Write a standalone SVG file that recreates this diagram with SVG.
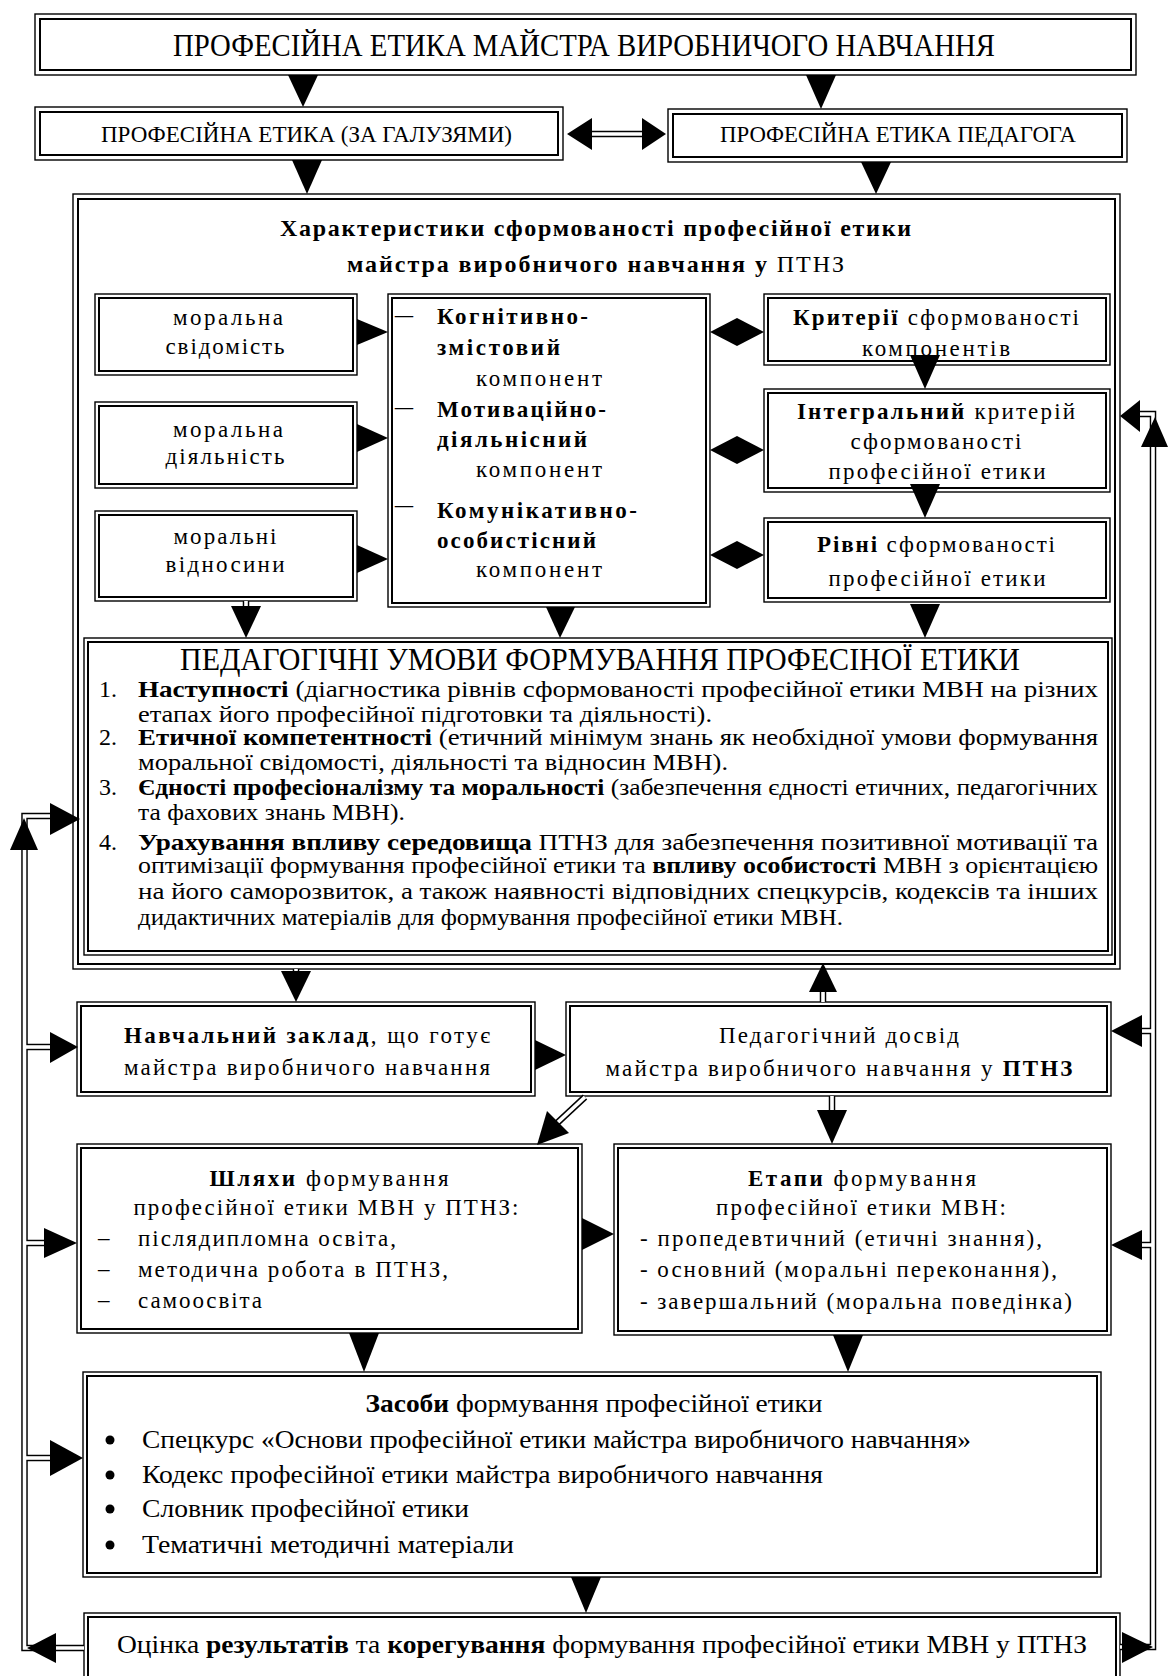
<svg xmlns="http://www.w3.org/2000/svg" width="1171" height="1676" viewBox="0 0 1171 1676">
<style>
.o{fill:#fff;stroke:#000;stroke-width:1.4}
.i{fill:none;stroke:#000;stroke-width:2}
.t{font-family:"Liberation Serif","Times New Roman",serif;font-size:23px;fill:#000}
.l{font-size:24px}
.z{font-size:25px}
.c{text-anchor:middle}
.b{font-weight:bold}
.ah{fill:#000;stroke:none}
.dk{fill:none;stroke:#000;stroke-width:6.5}
.dw{fill:none;stroke:#fff;stroke-width:3.6}
</style>
<rect width="1171" height="1676" fill="#fff"/>

<g id="n-title">
<rect class="o" x="35" y="14" width="1101" height="61"/>
<rect class="i" x="40" y="19" width="1091" height="51"/>
<text class="t" x="173" y="56" style="font-size:31px" textLength="822" lengthAdjust="spacingAndGlyphs">ПРОФЕСІЙНА ЕТИКА МАЙСТРА ВИРОБНИЧОГО НАВЧАННЯ</text>
</g>

<g id="n-galuz">
<rect class="o" x="35" y="107" width="528" height="53"/>
<rect class="i" x="40" y="112" width="518" height="43"/>
<text class="t" x="101" y="142" textLength="411" lengthAdjust="spacingAndGlyphs">ПРОФЕСІЙНА ЕТИКА (ЗА ГАЛУЗЯМИ)</text>
</g>

<g id="n-pedagog">
<rect class="o" x="668" y="109" width="459" height="53"/>
<rect class="i" x="673" y="114" width="449" height="43"/>
<text class="t" x="720" y="142" textLength="356" lengthAdjust="spacingAndGlyphs">ПРОФЕСІЙНА ЕТИКА ПЕДАГОГА</text>
</g>

<g id="n-characteristics">
<rect class="o" x="73" y="194" width="1047" height="775"/>
<rect class="i" x="78" y="199" width="1037" height="765"/>
<text class="t b" x="280" y="236" style="font-size:24px" textLength="631">Характеристики сформованості професійної етики</text>
<text class="t" x="347" y="272" style="font-size:24px" textLength="497"><tspan class="b">майстра виробничого навчання у </tspan>ПТНЗ</text>
</g>

<g id="n-svidomist">
<rect class="o" x="95" y="294" width="262" height="81"/>
<rect class="i" x="99" y="298" width="254" height="73"/>
<text class="t c" x="228" y="325" textLength="110">моральна</text>
<text class="t c" x="225" y="354" textLength="119">свідомість</text>
</g>

<g id="n-diyalnist">
<rect class="o" x="95" y="402" width="262" height="86"/>
<rect class="i" x="99" y="406" width="254" height="78"/>
<text class="t c" x="228" y="437" textLength="110">моральна</text>
<text class="t c" x="225" y="464" textLength="119">діяльність</text>
</g>

<g id="n-vidnosyny">
<rect class="o" x="95" y="511" width="262" height="90"/>
<rect class="i" x="99" y="515" width="254" height="82"/>
<text class="t c" x="225" y="544" textLength="103">моральні</text>
<text class="t c" x="225" y="572" textLength="119">відносини</text>
</g>

<g id="n-components">
<rect class="o" x="388" y="294" width="322" height="313"/>
<rect class="i" x="392" y="298" width="314" height="305"/>
<text class="t" x="395" y="322" textLength="18" lengthAdjust="spacingAndGlyphs">–</text>
<text class="t b" x="437" y="324" textLength="151">Когнітивно-</text>
<text class="t b" x="437" y="355" textLength="123">змістовий</text>
<text class="t" x="476" y="386" textLength="126">компонент</text>
<text class="t" x="395" y="414" textLength="18" lengthAdjust="spacingAndGlyphs">–</text>
<text class="t b" x="437" y="417" textLength="169">Мотиваційно-</text>
<text class="t b" x="437" y="447" textLength="150">діяльнісний</text>
<text class="t" x="476" y="477" textLength="126">компонент</text>
<text class="t" x="395" y="512" textLength="18" lengthAdjust="spacingAndGlyphs">–</text>
<text class="t b" x="437" y="518" textLength="200">Комунікативно-</text>
<text class="t b" x="437" y="548" textLength="159">особистісний</text>
<text class="t" x="476" y="577" textLength="126">компонент</text>
</g>

<g id="n-criteria">
<rect class="o" x="764" y="294" width="346" height="71"/>
<rect class="i" x="768" y="298" width="338" height="63"/>
<text class="t c" x="936" y="325" textLength="286"><tspan class="b">Критерії</tspan> сформованості</text>
<text class="t c" x="936" y="356" textLength="148">компонентів</text>
</g>

<g id="n-integral">
<rect class="o" x="764" y="389" width="346" height="103"/>
<rect class="i" x="768" y="393" width="338" height="95"/>
<text class="t c" x="936" y="419" textLength="278"><tspan class="b">Інтегральний</tspan> критерій</text>
<text class="t c" x="936" y="449" textLength="171">сформованості</text>
<text class="t c" x="937" y="479" textLength="217">професійної етики</text>
</g>

<g id="n-levels">
<rect class="o" x="764" y="518" width="346" height="84"/>
<rect class="i" x="768" y="522" width="338" height="76"/>
<text class="t c" x="936" y="552" textLength="238"><tspan class="b">Рівні</tspan> сформованості</text>
<text class="t c" x="937" y="586" textLength="217">професійної етики</text>
</g>

<g id="n-conditions">
<rect class="o" x="84" y="638" width="1028" height="317"/>
<rect class="i" x="88" y="642" width="1020" height="309"/>
<text class="t" x="180" y="670" style="font-size:31px" textLength="840" lengthAdjust="spacingAndGlyphs">ПЕДАГОГІЧНІ УМОВИ ФОРМУВАННЯ ПРОФЕСІНОЇ ЕТИКИ</text>
<text class="t l" x="99" y="697">1.</text>
<text class="t l" x="138" y="697" textLength="960" lengthAdjust="spacingAndGlyphs"><tspan class="b">Наступності</tspan> (діагностика рівнів сформованості професійної етики МВН на різних</text>
<text class="t l" x="138" y="722" textLength="574" lengthAdjust="spacingAndGlyphs">етапах його професійної підготовки та діяльності).</text>
<text class="t l" x="99" y="745">2.</text>
<text class="t l" x="138" y="745" textLength="960" lengthAdjust="spacingAndGlyphs"><tspan class="b">Етичної компетентності</tspan> (етичний мінімум знань як необхідної умови формування</text>
<text class="t l" x="138" y="770" textLength="590" lengthAdjust="spacingAndGlyphs">моральної свідомості, діяльності та відносин МВН).</text>
<text class="t l" x="99" y="795">3.</text>
<text class="t l" x="138" y="795" textLength="960" lengthAdjust="spacingAndGlyphs"><tspan class="b">Єдності професіоналізму та моральності</tspan> (забезпечення єдності етичних, педагогічних</text>
<text class="t l" x="138" y="820" textLength="267" lengthAdjust="spacingAndGlyphs">та фахових знань МВН).</text>
<text class="t l" x="99" y="850">4.</text>
<text class="t l" x="138" y="850" textLength="960" lengthAdjust="spacingAndGlyphs"><tspan class="b">Урахування впливу середовища</tspan> ПТНЗ для забезпечення позитивної мотивації та</text>
<text class="t l" x="138" y="873" textLength="960" lengthAdjust="spacingAndGlyphs">оптимізації формування професійної етики та <tspan class="b">впливу особистості</tspan> МВН з орієнтацією</text>
<text class="t l" x="138" y="899" textLength="960" lengthAdjust="spacingAndGlyphs">на його саморозвиток, а також наявності відповідних спецкурсів, кодексів та інших</text>
<text class="t l" x="138" y="925" textLength="705" lengthAdjust="spacingAndGlyphs">дидактичних матеріалів для формування професійної етики МВН.</text>
</g>

<g id="n-zaklad">
<rect class="o" x="77" y="1002" width="458" height="94"/>
<rect class="i" x="81" y="1006" width="450" height="86"/>
<text class="t c" x="307" y="1043" textLength="366"><tspan class="b">Навчальний заклад</tspan>, що готує</text>
<text class="t c" x="307" y="1075" textLength="366">майстра виробничого навчання</text>
</g>

<g id="n-dosvid">
<rect class="o" x="566" y="1002" width="545" height="94"/>
<rect class="i" x="570" y="1006" width="537" height="86"/>
<text class="t c" x="839" y="1043" textLength="240">Педагогічний досвід</text>
<text class="t c" x="839" y="1076" textLength="467">майстра виробничого навчання у <tspan class="b">ПТНЗ</tspan></text>
</g>

<g id="n-shlyakhy">
<rect class="o" x="77" y="1144" width="505" height="189"/>
<rect class="i" x="81" y="1148" width="497" height="181"/>
<text class="t c" x="329" y="1186" textLength="239"><tspan class="b">Шляхи</tspan> формування</text>
<text class="t c" x="326" y="1215" textLength="385">професійної етики МВН у ПТНЗ:</text>
<text class="t" x="98" y="1245">–</text>
<text class="t" x="138" y="1246" textLength="258">післядипломна освіта,</text>
<text class="t" x="98" y="1276">–</text>
<text class="t" x="138" y="1277" textLength="310">методична робота в ПТНЗ,</text>
<text class="t" x="98" y="1307">–</text>
<text class="t" x="138" y="1308" textLength="124">самоосвіта</text>
</g>

<g id="n-etapy">
<rect class="o" x="614" y="1144" width="497" height="191"/>
<rect class="i" x="618" y="1148" width="489" height="183"/>
<text class="t c" x="862" y="1186" textLength="228"><tspan class="b">Етапи</tspan> формування</text>
<text class="t c" x="861" y="1215" textLength="290">професійної етики МВН:</text>
<text class="t" x="640" y="1246" textLength="402">- пропедевтичний (етичні знання),</text>
<text class="t" x="640" y="1277" textLength="417">- основний (моральні переконання),</text>
<text class="t" x="640" y="1309" textLength="432">- завершальний (моральна поведінка)</text>
</g>

<g id="n-zasoby">
<rect class="o" x="83" y="1372" width="1018" height="205"/>
<rect class="i" x="87" y="1376" width="1010" height="197"/>
<text class="t z c" x="594" y="1412" textLength="457" lengthAdjust="spacingAndGlyphs"><tspan class="b">Засоби</tspan> формування професійної етики</text>
<circle cx="110" cy="1440" r="4.5"/>
<text class="t z" x="142" y="1448" textLength="829" lengthAdjust="spacingAndGlyphs">Спецкурс «Основи професійної етики майстра виробничого навчання»</text>
<circle cx="110" cy="1475" r="4.5"/>
<text class="t z" x="142" y="1483" textLength="681" lengthAdjust="spacingAndGlyphs">Кодекс професійної етики майстра виробничого навчання</text>
<circle cx="110" cy="1509" r="4.5"/>
<text class="t z" x="142" y="1517" textLength="327" lengthAdjust="spacingAndGlyphs">Словник професійної етики</text>
<circle cx="110" cy="1545" r="4.5"/>
<text class="t z" x="142" y="1553" textLength="372" lengthAdjust="spacingAndGlyphs">Тематичні методичні матеріали</text>
</g>

<g id="n-result">
<rect class="o" x="84" y="1613" width="1036" height="90"/>
<rect class="i" x="88" y="1617" width="1028" height="82"/>
<text class="t z" x="117" y="1653" textLength="970" lengthAdjust="spacingAndGlyphs">Оцінка <tspan class="b">результатів</tspan> та <tspan class="b">корегування</tspan> формування професійної етики МВН у ПТНЗ</text>
</g>

<g id="connectors">
<g class="dk">
<path d="M84 1648 H24.5 V816 H52"/>
<path d="M24.5 1047 H52"/>
<path d="M24.5 1243 H46"/>
<path d="M24.5 1458 H52"/>
<path d="M1120 1647 H1153 V414 H1140"/>
<path d="M1153 1031 H1141"/>
<path d="M1153 1245 H1141"/>
<path d="M588 134 H650"/>
<path d="M296 969 V974"/>
<path d="M823 990 V1002"/>
<path d="M832 1096 V1112"/>
<path d="M585 1097 L556 1124"/>
<path d="M246 601 V608"/>
</g>
<g class="dw">
<path d="M84 1648 H24.5 V816 H52"/>
<path d="M24.5 1047 H52"/>
<path d="M24.5 1243 H46"/>
<path d="M24.5 1458 H52"/>
<path d="M1120 1647 H1153 V414 H1140"/>
<path d="M1153 1031 H1141"/>
<path d="M1153 1245 H1141"/>
<path d="M588 134 H650"/>
<path d="M296 969 V974"/>
<path d="M823 990 V1002"/>
<path d="M832 1096 V1112"/>
<path d="M585 1097 L556 1124"/>
<path d="M246 601 V608"/>
</g>
<g class="ah">
<polygon points="288,75 318,75 303,107"/>
<polygon points="806,75 836,75 821,109"/>
<polygon points="567,134 592,118 592,150"/>
<polygon points="666,134 642,118 642,150"/>
<polygon points="292,160 322,160 307,194"/>
<polygon points="861,162 891,162 876,194"/>
<polygon points="357,319 357,345 388,332"/>
<polygon points="357,424 357,452 388,438"/>
<polygon points="357,545 357,573 388,559"/>
<polygon points="710,332 737,318 764,332 737,346"/>
<polygon points="710,450 737,436 764,450 737,464"/>
<polygon points="710,555 737,541 764,555 737,569"/>
<polygon points="910,355 940,355 925,389"/>
<polygon points="910,484 940,484 925,518"/>
<polygon points="231,606 261,606 246,638"/>
<polygon points="546,607 575,607 560,638"/>
<polygon points="910,604 940,604 925,638"/>
<polygon points="281,971 311,971 296,1002"/>
<polygon points="809,992 837,992 823,963"/>
<polygon points="535,1040 535,1070 566,1055"/>
<polygon points="817,1110 847,1110 832,1144"/>
<polygon points="537,1145 547,1111 569,1133"/>
<polygon points="582,1218 582,1250 614,1234"/>
<polygon points="349,1333 379,1333 364,1372"/>
<polygon points="833,1335 863,1335 848,1372"/>
<polygon points="571,1577 601,1577 586,1613"/>
<polygon points="50,803 50,835 80,819"/>
<polygon points="10,850 38,850 24,818"/>
<polygon points="50,1032 50,1063 78,1047"/>
<polygon points="44,1228 44,1258 77,1243"/>
<polygon points="50,1440 50,1476 83,1458"/>
<polygon points="56,1633 56,1663 27,1648"/>
<polygon points="1140,400 1140,432 1120,416"/>
<polygon points="1141,447 1168,447 1155,417"/>
<polygon points="1142,1015 1142,1047 1111,1031"/>
<polygon points="1142,1230 1142,1260 1111,1245"/>
<polygon points="1122,1632 1122,1663 1153,1647"/>
</g>
</g>
</svg>
